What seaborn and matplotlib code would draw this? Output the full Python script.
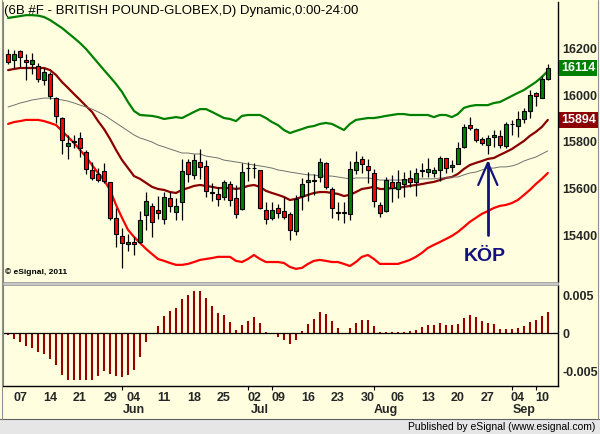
import matplotlib
matplotlib.use("agg")
import matplotlib.pyplot as plt
import matplotlib.transforms as mtransforms
from matplotlib.patches import Rectangle
from matplotlib.lines import Line2D
import numpy as np
import pandas as pd
import seaborn as sns

# daily bars, 6B (British pound, Globex), May 3 - Sep 11 2012
opens = [16173, 16150, 16187, 16150, 16130, 16125, 16065, 16091, 15988, 15903,
         15781, 15804, 15815, 15756, 15682, 15662, 15676, 15628, 15475, 15399,
         15365, 15373, 15373, 15489, 15526, 15509, 15472, 15563, 15503, 15546,
         15713, 15659, 15713, 15699, 15586, 15580, 15564, 15623, 15560, 15515,
         15691, 15690, 15681, 15509, 15475, 15518, 15508, 15495, 15423, 15572,
         15628, 15637, 15650, 15709, 15598, 15502, 15499, 15492, 15681, 15726,
         15699, 15667, 15533, 15508, 15631, 15600, 15621, 15648, 15631, 15678,
         15674, 15669, 15681, 15730, 15692, 15708, 15779, 15872, 15855, 15811,
         15787, 15821, 15825, 15783, 15875, 15869, 15900, 15932, 16007, 15988,
         16068]
highs = [16195, 16191, 16191, 16173, 16177, 16136, 16113, 16099, 15991, 15906,
         15830, 15830, 15844, 15764, 15716, 15688, 15709, 15631, 15518, 15433,
         15407, 15397, 15506, 15586, 15539, 15572, 15589, 15589, 15560, 15728,
         15728, 15747, 15770, 15723, 15624, 15610, 15638, 15634, 15617, 15709,
         15716, 15709, 15681, 15543, 15546, 15535, 15567, 15501, 15574, 15645,
         15671, 15662, 15730, 15716, 15610, 15546, 15546, 15719, 15762, 15742,
         15728, 15684, 15546, 15651, 15659, 15681, 15671, 15681, 15688, 15709,
         15730, 15695, 15740, 15730, 15723, 15798, 15878, 15908, 15858, 15823,
         15830, 15849, 15851, 15886, 15893, 15932, 15946, 16021, 16014, 16082,
         16130]
lows = [16133, 16113, 16120, 16062, 16088, 16056, 16042, 15983, 15883, 15750,
        15728, 15776, 15737, 15662, 15638, 15631, 15624, 15468, 15355, 15262,
        15336, 15319, 15369, 15425, 15397, 15472, 15450, 15501, 15468, 15468,
        15631, 15642, 15642, 15567, 15550, 15529, 15555, 15529, 15478, 15511,
        15634, 15645, 15515, 15452, 15468, 15475, 15472, 15384, 15404, 15512,
        15549, 15574, 15631, 15600, 15478, 15468, 15454, 15467, 15662, 15668,
        15624, 15525, 15482, 15501, 15543, 15560, 15567, 15610, 15572, 15652,
        15652, 15652, 15635, 15667, 15674, 15705, 15773, 15851, 15801, 15787,
        15750, 15780, 15773, 15773, 15830, 15823, 15879, 15903, 15954, 15986,
        16064]
closes = [16139, 16173, 16161, 16142, 16147, 16068, 16096, 15997, 15909, 15810,
          15794, 15800, 15773, 15685, 15645, 15640, 15634, 15478, 15407, 15369,
          15373, 15365, 15467, 15549, 15458, 15496, 15564, 15526, 15526, 15676,
          15662, 15722, 15693, 15591, 15583, 15557, 15628, 15553, 15492, 15671,
          15689, 15688, 15518, 15472, 15509, 15499, 15482, 15424, 15556, 15620,
          15637, 15636, 15713, 15610, 15518, 15499, 15501, 15684, 15716, 15705,
          15679, 15549, 15496, 15637, 15606, 15631, 15641, 15631, 15667, 15680,
          15684, 15681, 15730, 15688, 15702, 15773, 15864, 15861, 15807, 15794,
          15815, 15830, 15787, 15875, 15875, 15900, 15932, 16000, 15997, 16068,
          16114]

upper_band = [16328, 16332, 16336, 16340, 16340, 16338, 16332, 16319, 16302, 16285,
              16264, 16243, 16221, 16196, 16166, 16136, 16106, 16077, 16047, 16013,
              15970, 15932, 15915, 15913, 15911, 15906, 15898, 15902, 15906, 15902,
              15915, 15928, 15940, 15940, 15928, 15915, 15902, 15898, 15889, 15911,
              15915, 15915, 15915, 15902, 15885, 15872, 15851, 15838, 15847, 15855,
              15864, 15868, 15877, 15881, 15877, 15864, 15851, 15877, 15894, 15898,
              15902, 15902, 15906, 15911, 15915, 15919, 15919, 15915, 15915, 15915,
              15915, 15906, 15915, 15915, 15906, 15919, 15945, 15953, 15957, 15957,
              15957, 15966, 15970, 15983, 15996, 16009, 16021, 16038, 16055, 16077,
              16102]
lower_band = [15877, 15885, 15889, 15894, 15894, 15894, 15889, 15881, 15872, 15847,
              15821, 15796, 15766, 15736, 15702, 15668, 15638, 15596, 15532, 15477,
              15426, 15396, 15370, 15345, 15323, 15302, 15294, 15285, 15277, 15277,
              15281, 15289, 15298, 15302, 15306, 15311, 15311, 15311, 15294, 15289,
              15302, 15319, 15302, 15289, 15289, 15289, 15285, 15268, 15260, 15264,
              15281, 15294, 15298, 15294, 15289, 15289, 15281, 15272, 15289, 15311,
              15319, 15302, 15281, 15281, 15281, 15281, 15289, 15298, 15311, 15328,
              15349, 15362, 15374, 15387, 15400, 15417, 15438, 15460, 15477, 15494,
              15506, 15519, 15528, 15532, 15540, 15553, 15574, 15596, 15621, 15643,
              15668]
mid_line = [16106, 16111, 16115, 16115, 16115, 16115, 16115, 16106, 16085, 16055,
            16030, 16004, 15979, 15953, 15928, 15889, 15855, 15813, 15766, 15723,
            15689, 15655, 15643, 15626, 15609, 15600, 15596, 15587, 15583, 15596,
            15604, 15613, 15617, 15613, 15609, 15604, 15604, 15604, 15600, 15604,
            15613, 15617, 15609, 15592, 15583, 15575, 15566, 15553, 15558, 15566,
            15575, 15583, 15587, 15587, 15583, 15579, 15570, 15575, 15587, 15600,
            15604, 15609, 15600, 15600, 15604, 15604, 15609, 15613, 15617, 15621,
            15626, 15630, 15638, 15647, 15651, 15664, 15685, 15702, 15711, 15719,
            15728, 15732, 15745, 15757, 15770, 15787, 15804, 15826, 15843, 15864,
            15894]
slow_line = [15949, 15957, 15966, 15972, 15979, 15983, 15987, 15987, 15983, 15979,
             15974, 15966, 15957, 15949, 15940, 15928, 15915, 15898, 15881, 15864,
             15847, 15830, 15817, 15809, 15800, 15787, 15779, 15770, 15762, 15753,
             15753, 15749, 15749, 15740, 15736, 15732, 15723, 15719, 15715, 15711,
             15706, 15702, 15698, 15694, 15689, 15681, 15677, 15672, 15668, 15664,
             15660, 15660, 15655, 15655, 15655, 15651, 15647, 15643, 15647, 15647,
             15647, 15643, 15638, 15638, 15638, 15638, 15638, 15638, 15643, 15643,
             15643, 15643, 15647, 15647, 15651, 15651, 15660, 15668, 15672, 15681,
             15689, 15689, 15694, 15694, 15698, 15706, 15719, 15728, 15736, 15749,
             15762]
oscillator = [-0.00022, -0.00075, -0.00123, -0.00167, -0.00193, -0.00254, -0.00272,
              -0.00338, -0.00425, -0.00548, -0.00614, -0.00623, -0.00614, -0.00623,
              -0.00623, -0.00570, -0.00504, -0.00535, -0.00570, -0.00583, -0.00548,
              -0.00482, -0.00320, -0.00123, -0.00013, 0.00096, 0.00228, 0.00294,
              0.00333, 0.00452, 0.00496, 0.00557, 0.00557, 0.00461, 0.00360,
              0.00268, 0.00241, 0.00149, 0.00044, 0.00110, 0.00162, 0.00215,
              0.00127, 0.00018, -0.00013, -0.00057, -0.00088, -0.00149, -0.00088,
              0.00022, 0.00123, 0.00184, 0.00281, 0.00254, 0.00158, 0.00070,
              0.00004, 0.00066, 0.00132, 0.00175, 0.00175, 0.00096, 0.00009,
              0.00018, 0.00018, 0.00018, 0.00018, 0.00026, 0.00044, 0.00083,
              0.00110, 0.00105, 0.00132, 0.00110, 0.00105, 0.00123, 0.00197,
              0.00241, 0.00211, 0.00158, 0.00132, 0.00123, 0.00053, 0.00053,
              0.00053, 0.00070, 0.00096, 0.00149, 0.00175, 0.00228, 0.00272]

holidays = ["2012-05-28", "2012-07-04", "2012-09-03"]
price_ticks = [15400, 15600, 15800, 16000, 16200]
osc_ticks = [-0.005, 0, 0.005]
osc_tick_labels = ["-0.005", "0", "0.005"]
month_names = ["Jun", "Jul", "Aug", "Sep"]

dates = pd.bdate_range("2012-05-03", "2012-09-11")
dates = dates[~dates.isin(pd.to_datetime(holidays))]
idx = np.arange(len(dates))
opens, highs, lows, closes = map(np.array, (opens, highs, lows, closes))

# first trading day of each week (skip the partial first week)
week = dates.isocalendar().week.values
week_start = [i for i in idx[1:] if week[i] != week[i - 1]]
week_labels = [dates[i].strftime("%d") for i in week_start]
month_start = [i for i in idx[1:] if dates[i].month != dates[i - 1].month]
month_end_marks = [19, 40, 44, 61, 84, 88]

bg = "#FFFFE0"
sns.set_theme(style="white")
plt.rcParams["font.family"] = ["Liberation Sans", "DejaVu Sans"]

fig = plt.figure(figsize=(6, 4.34), dpi=100, facecolor=bg)
W, H = 600.0, 434.0
ax = fig.add_axes([3 / W, 1 - 282 / H, 555 / W, 280 / H])
ax2 = fig.add_axes([3 / W, 1 - 386 / H, 555 / W, 101 / H], sharex=ax)
for a in (ax, ax2):
    a.set_facecolor(bg)

# bands and averages
sns.lineplot(x=idx, y=upper_band, ax=ax, color="#008000", lw=1.6, zorder=2)
sns.lineplot(x=idx, y=lower_band, ax=ax, color="#FF0000", lw=1.6, zorder=2)
sns.lineplot(x=idx, y=mid_line, ax=ax, color="#8B0000", lw=1.6, zorder=2)
sns.lineplot(x=idx, y=slow_line, ax=ax, color="#707070", lw=0.7, zorder=2)

# candles
body_col = np.where(closes > opens, "#008000", "#FF0000")
ax.vlines(idx, lows, highs, color="black", lw=0.9, zorder=3)
ax.bar(idx, np.abs(closes - opens), bottom=np.minimum(opens, closes), width=0.75,
       color=body_col, edgecolor="black", linewidth=0.8, zorder=4)

ax.set_xlim(-0.85, 91.7)
ax.set_ylim(15204, 16396)
ax.yaxis.tick_right()
ax.set_yticks(price_ticks)
ax.set_yticklabels([str(p) for p in price_ticks], fontsize=9, fontweight="bold")
ax.tick_params(axis="y", length=0, pad=3)
ax.tick_params(axis="x", bottom=False, labelbottom=False)

# last values on the right scale
bt = mtransforms.blended_transform_factory(ax.transAxes, ax.transData)
ax.text(1.005, closes[-1], str(closes[-1]), transform=bt, va="center", ha="left",
        fontsize=9, fontweight="bold", color="white",
        bbox=dict(boxstyle="square,pad=0.18", fc="#008000", ec="none"))
ax.text(1.005, mid_line[-1], str(mid_line[-1]), transform=bt, va="center", ha="left",
        fontsize=9, fontweight="bold", color="white",
        bbox=dict(boxstyle="square,pad=0.18", fc="#8B0000", ec="none"))

# buy signal
navy = "#12127E"
ax.plot([80, 80], [15404, 15711], color=navy, lw=2, zorder=5)
ax.plot([78.4, 80, 81.6], [15617, 15711, 15617], color=navy, lw=1.6, zorder=5)
ax.text(79.5, 15311, "KÖP", ha="center", va="center", fontsize=14,
        fontweight="bold", color=navy)

ax.text(0.004, 0.035, "\u00a9 eSignal, 2011", transform=ax.transAxes, fontsize=6,
        fontweight="bold", color="black", va="center")
fig.text(4 / W, 1 - 11 / H, "(6B #F - BRITISH POUND-GLOBEX,D) Dynamic,0:00-24:00",
         fontsize=9.5, color="black", va="center", ha="left")

# oscillator panel
ax2.vlines(idx, 0, oscillator, color="#990000", lw=1.5)
ax2.axhline(0, color="black", lw=0.9)
ax2.set_ylim(-0.00697, 0.00632)
ax2.yaxis.tick_right()
ax2.set_yticks(osc_ticks)
ax2.set_yticklabels(osc_tick_labels, fontsize=9, fontweight="bold")
ax2.tick_params(axis="y", length=0, pad=3)
ax2.set_xticks(week_start)
ax2.set_xticklabels(week_labels, fontsize=9, fontweight="bold")
ax2.set_xticks(month_end_marks, minor=True)
ax2.tick_params(axis="x", which="major", length=0, pad=4)
ax2.tick_params(axis="x", which="minor", bottom=True, length=3, width=0.8,
                color="black", direction="out")
xt = mtransforms.blended_transform_factory(ax2.transData, ax2.transAxes)
for i, m in zip(month_start, month_names):
    ax2.text(i + 1, -0.24, m, transform=xt, ha="center", va="center",
             fontsize=9, fontweight="bold")

for a in (ax, ax2):
    a.spines["left"].set_color("#808080")
    a.spines["left"].set_linewidth(0.8)
    a.spines["right"].set_color("black")
    a.spines["right"].set_linewidth(1.0)
    a.spines["top"].set_visible(False)
ax.spines["bottom"].set_visible(False)
ax2.spines["bottom"].set_color("black")
ax2.spines["bottom"].set_linewidth(1.0)

# panel separator, frame and footer strip
fig.patches.append(Rectangle((3 / W, 1 - 285 / H), 555 / W, 3 / H, transform=fig.transFigure,
                             fc="#C8C8C8", ec="#909090", lw=0.5))
fig.patches.append(Rectangle((0, 0), 1, 15 / H, transform=fig.transFigure,
                             fc="#E6E6E6", ec="none"))
fig.lines.append(Line2D([0, 1], [15 / H, 15 / H], transform=fig.transFigure,
                        color="#606060", lw=0.8))
fig.lines.append(Line2D([2 / W, 2 / W], [15 / H, 1], transform=fig.transFigure,
                        color="#909090", lw=0.8))
fig.lines.append(Line2D([597.5 / W, 597.5 / W], [15 / H, 1], transform=fig.transFigure,
                        color="#909090", lw=0.8))
fig.text(595 / W, 7 / H, "Published by eSignal (www.esignal.com)", fontsize=7.5,
         ha="right", va="center", color="black")

fig.savefig("out.png", dpi=100, facecolor=bg)
